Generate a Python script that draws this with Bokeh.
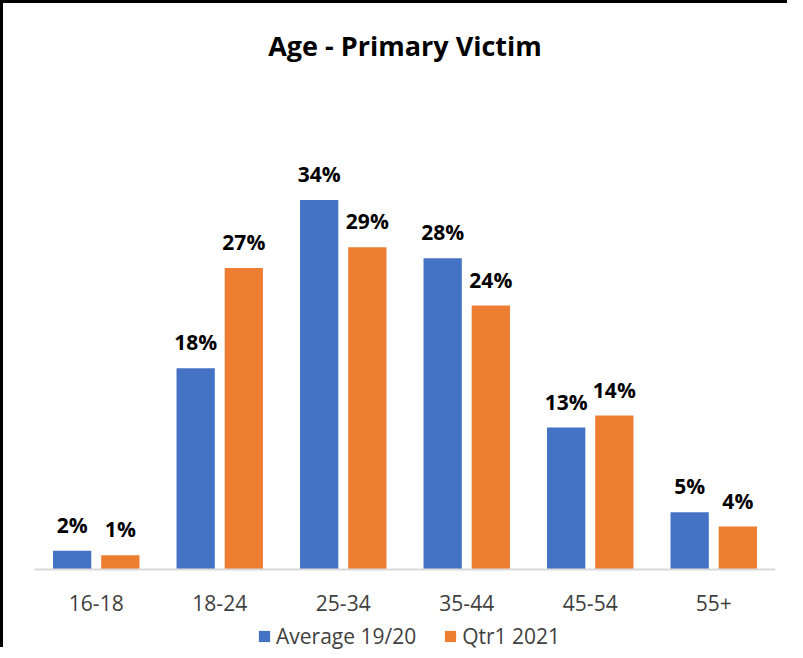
from bokeh.plotting import figure
from bokeh.models import FactorRange, ColumnDataSource, Legend, LegendItem, Range1d, Span
from bokeh.transform import dodge
from bokeh.core.properties import value
from bokeh.embed import file_html
from bokeh.resources import INLINE

categories = ["16-18", "18-24", "25-34", "35-44", "45-54", "55+"]
avg_1920 = [0.017, 0.183, 0.336, 0.283, 0.129, 0.052]
qtr1_2021 = [0.013, 0.274, 0.293, 0.240, 0.140, 0.039]
series_names = ["Average 19/20", "Qtr1 2021"]
title_text = "Age - Primary Victim"

BLUE = "#4472C4"
ORANGE = "#ED7D31"
FONT = "Open Sans"

src = ColumnDataSource(dict(
    cat=categories,
    zero=[0] * len(categories),
    a=avg_1920,
    q=qtr1_2021,
    a_lbl=[f"{round(v * 100)}%" for v in avg_1920],
    q_lbl=[f"{round(v * 100)}%" for v in qtr1_2021],
))

# layout (pixels)
W, H = 787, 647
FRAME_L, FRAME_R = 31, 772
BASE_Y = 566          # canvas y of the zero line
PX_PER_UNIT = 1100.0  # pixels per 100%

p = figure(
    x_range=FactorRange(*categories, range_padding=0),
    y_range=Range1d(-(H - BASE_Y) / PX_PER_UNIT, BASE_Y / PX_PER_UNIT),
    width=W, height=H,
    output_backend="svg", toolbar_location=None,
    min_border_left=FRAME_L, min_border_right=W - FRAME_R,
    min_border_top=0, min_border_bottom=0,
)
p.x_range.factor_padding = 0

off = 0.195
bw = 0.31
r1 = p.vbar(x=dodge("cat", -off, range=p.x_range), top="a", width=bw, source=src,
            fill_color=BLUE, line_color=None)
r2 = p.vbar(x=dodge("cat", off, range=p.x_range), top="q", width=bw, source=src,
            fill_color=ORANGE, line_color=None)

# zero line (category axis line)
p.add_layout(Span(location=0, dimension="width", line_color="#D9D9D9", line_width=2))

# data labels
for col, lbl, dx in (("a", "a_lbl", -off), ("q", "q_lbl", off)):
    p.text(x=dodge("cat", dx, range=p.x_range), y=col, text=lbl, source=src,
           text_align="center", text_baseline="alphabetic", y_offset=-26,
           text_font=value(FONT), text_font_style="bold",
           text_font_size="21px", text_color="#000000")

# category labels
p.text(x="cat", y="zero", text="cat", source=src, text_align="center",
       text_baseline="alphabetic", y_offset=33, text_font=value(FONT),
       text_font_size="21px", text_color="#404040")

# title
p.text(x=[len(categories) / 2], y=[(BASE_Y - 42) / PX_PER_UNIT], text=[title_text],
       text_align="center", text_baseline="alphabetic", text_font=value(FONT),
       text_font_style="bold", text_font_size="27px", text_color="#000000")

p.axis.visible = False
p.grid.visible = False
p.outline_line_color = None
p.background_fill_color = "white"
p.border_fill_color = "white"

legend = Legend(items=[LegendItem(label=series_names[0], renderers=[r1]),
                       LegendItem(label=series_names[1], renderers=[r2])],
                orientation="horizontal", location=(254 - FRAME_L, 0),
                label_text_font=FONT, label_text_font_size="21px",
                label_text_color="#404040",
                glyph_width=14, glyph_height=14, label_standoff=5, spacing=27,
                padding=0, margin=0, border_line_color=None,
                background_fill_alpha=0)
p.add_layout(legend, "center")

p.styles = {"border-top": "3px solid black", "border-left": "3px solid black"}

open("out.html", "w").write(file_html(p, INLINE))
